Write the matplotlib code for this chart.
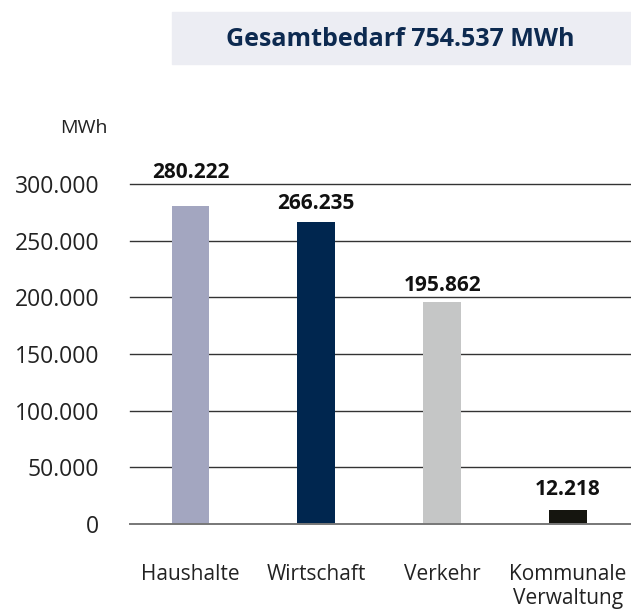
import matplotlib
matplotlib.use("Agg")
import matplotlib.pyplot as plt
from matplotlib.patches import Rectangle

categories = ["Haushalte", "Wirtschaft", "Verkehr", "Kommunale\nVerwaltung"]
values = [280222, 266235, 195862, 12218]
value_labels = ["280.222", "266.235", "195.862", "12.218"]
yticks = [0, 50000, 100000, 150000, 200000, 250000, 300000]
ytick_labels = ["0", "50.000", "100.000", "150.000", "200.000", "250.000", "300.000"]
title_text = "Gesamtbedarf 754.537 MWh"
unit_label = "MWh"

colors = ["#a3a6c0", "#00264f", "#c5c6c6", "#15150f"]
label_offsets = [17, 6, 4, 7]  # points above bar top

plt.rcParams['font.family'] = ['Open Sans', 'DejaVu Sans']

fig = plt.figure(figsize=(6.31, 6.12), dpi=100)
ax = fig.add_axes([130/631, 1-524/612, 1-130/631, (524-184)/612])

x = list(range(len(categories)))
ax.bar(x, values, width=0.30, color=colors, zorder=3)
ax.set_xlim(-0.48, 3.5)
ax.set_ylim(0, 300000)

for yv in yticks[1:]:
    ax.axhline(yv, color="#333333", lw=1.0, zorder=1, clip_on=False)
ax.axhline(0, color="#777777", lw=1.4, zorder=4, clip_on=False)

for s in ax.spines.values():
    s.set_visible(False)

ax.set_yticks(yticks)
ax.set_yticklabels(ytick_labels, fontsize=16.5, color="#222222")
ax.tick_params(axis='y', length=0, pad=22)
ax.set_xticks(x)
ax.set_xticklabels(categories, fontsize=15, color="#222222", linespacing=1.2, va='top')
ax.tick_params(axis='x', length=0, pad=29)

for xi, v, lab, off in zip(x, values, value_labels, label_offsets):
    ax.annotate(lab, (xi, v), xytext=(0, off), textcoords="offset points",
                ha="center", va="bottom", fontsize=15, fontweight="bold",
                color="#111111", annotation_clip=False)

fig.text(108/631, 1-128/612, unit_label, ha="right", va="center", fontsize=14,
         color="#222222")

fig.patches.append(Rectangle((172/631, 1-64/612), 1-172/631, 52/612,
                             transform=fig.transFigure, color="#ecedf3", zorder=0))
fig.text(400/631, 1-40/612, title_text, ha="center", va="center", fontsize=18,
         fontweight="bold", color="#0d2a50")

fig.savefig("out.png", dpi=100)
